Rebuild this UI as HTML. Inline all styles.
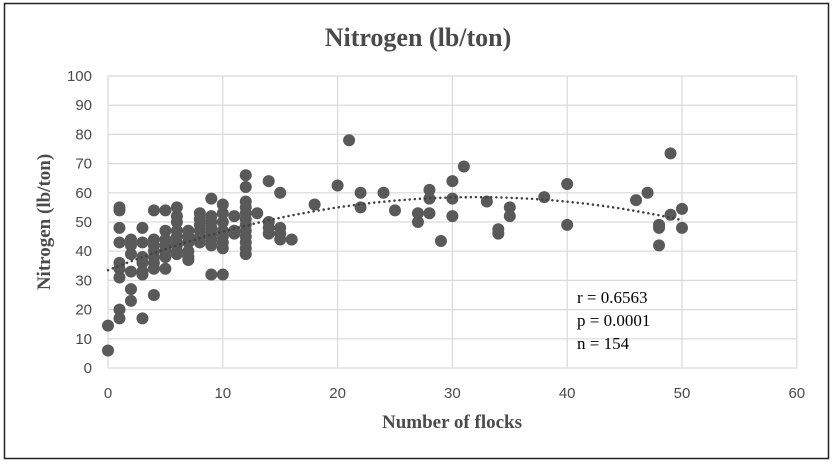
<!DOCTYPE html>
<html><head><meta charset="utf-8"><style>
body{margin:0;background:#fff;}
svg{display:block}
</style></head><body>
<svg id="s" width="836" height="466" xmlns="http://www.w3.org/2000/svg">
<rect x="0" y="0" width="836" height="466" fill="#fff"/>
<rect x="4.5" y="3.5" width="824" height="455" fill="none" stroke="#222" stroke-width="1.5"/>
<g id="grid" stroke="#d9d9d9" stroke-width="1.2"></g>
<text x="418" y="46" text-anchor="middle" font-family="Liberation Serif, serif" font-weight="bold" font-size="26" fill="#4a4a4a">Nitrogen (lb/ton)</text>
<g id="yt" font-family="Liberation Sans, sans-serif" font-size="15" fill="#4a4a4a" text-anchor="end"></g>
<g id="xt" font-family="Liberation Sans, sans-serif" font-size="15" fill="#4a4a4a" text-anchor="middle"></g>
<text x="452" y="428" text-anchor="middle" font-family="Liberation Serif, serif" font-weight="bold" font-size="19" fill="#4a4a4a">Number of flocks</text>
<text transform="translate(50,222) rotate(-90)" text-anchor="middle" font-family="Liberation Serif, serif" font-weight="bold" font-size="19" fill="#4a4a4a">Nitrogen (lb/ton)</text>
<g id="pts" fill="#595959"></g>
<path id="trend" fill="none" stroke="#404040" stroke-width="2.5" stroke-linecap="round" stroke-dasharray="0.1 5"/>
<g font-family="Liberation Serif, serif" font-size="17" fill="#000">
<text x="577" y="303">r = 0.6563</text>
<text x="577" y="326">p = 0.0001</text>
<text x="577" y="349">n = 154</text>
</g>
</svg>
<script>
var X0=108,XS=11.48,Y0=368,YS=2.92;
function px(x){return X0+x*XS}function py(y){return Y0-y*YS}
var ns="http://www.w3.org/2000/svg";
function el(t,a,p){var e=document.createElementNS(ns,t);for(var k in a)e.setAttribute(k,a[k]);document.getElementById(p).appendChild(e);return e}
for(var v=10;v<=100;v+=10)el('line',{x1:X0,x2:px(60),y1:py(v),y2:py(v)},'grid');
for(var v=10;v<=60;v+=10)el('line',{x1:px(v),x2:px(v),y1:py(0),y2:py(100)},'grid');
el('line',{x1:X0,x2:px(60),y1:Y0,y2:Y0},'grid');el('line',{x1:X0,x2:X0,y1:Y0,y2:py(100)},'grid');
for(var v=0;v<=100;v+=10){var t=el('text',{x:92,y:py(v)+5},'yt');t.textContent=v;}
for(var v=0;v<=60;v+=10){var t=el('text',{x:px(v),y:398},'xt');t.textContent=v;}
var D={0:[6,14.5],1:[55,54,48,43,36,34,31,20,17],2:[44,42,39,33,27,23],3:[48,43,38,36,33,32,17],4:[54,44,42,40,38,36,34,25],5:[54,47,44,42,40,38,34],6:[55,52,50,47,45,43,42,40,39],7:[47,45,43,40,38,37],8:[53,51,49,47,45,43],9:[58,52,50,48,46,44,42,32],10:[56,53,50,47,45,43,41,32],11:[52,47,46],12:[66,62,57,55,53,51,49,47,45,43,41,39],13:[53],14:[64,50,48,46],15:[60,48,46,44],16:[44],18:[56],20:[62.5],21:[78],22:[60,55],24:[60],25:[54],27:[53,50],28:[61,58,53],29:[43.5],30:[64,58,52],31:[69],33:[57],34:[47.5,46],35:[55,52],38:[58.5],40:[63,49],46:[57.5],47:[60],48:[49,48,42],49:[73.5,52.5],50:[54.5,48]};
for(var k in D)D[k].forEach(function(y){el('circle',{cx:px(+k),cy:py(y),r:6},'pts')});
var d='';for(var x=0;x<=50;x+=0.5){var y=33.5+1.5625*x-0.0244*x*x;d+=(x?'L':'M')+px(x).toFixed(1)+' '+py(y).toFixed(1);}
document.getElementById('trend').setAttribute('d',d);
</script>
</body></html>
